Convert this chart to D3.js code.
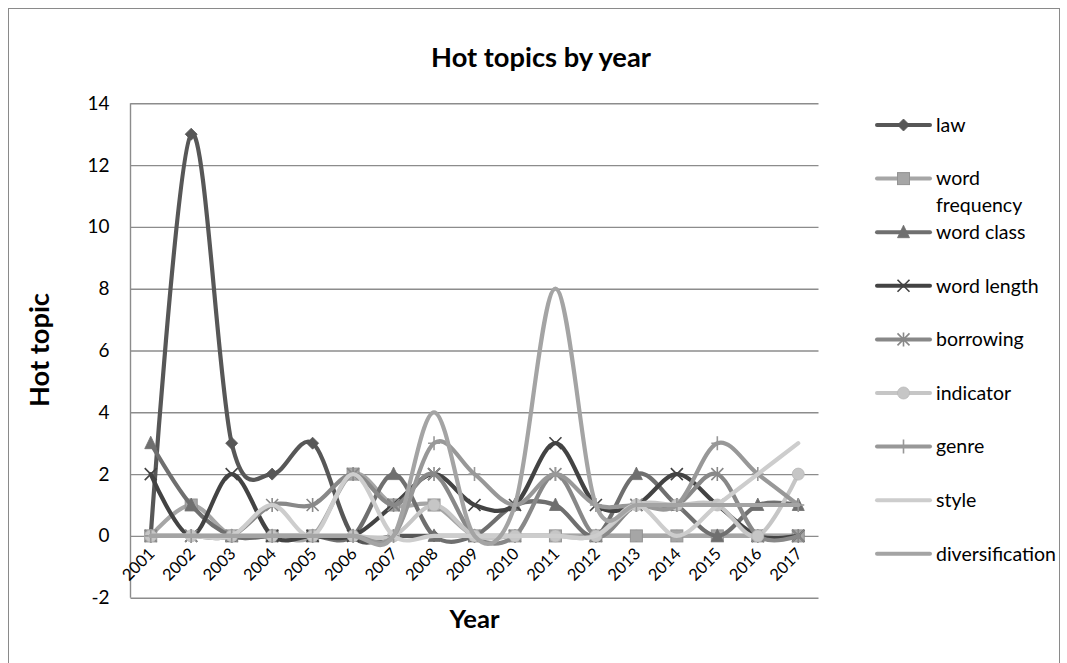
<!DOCTYPE html>
<html>
<head>
<meta charset="utf-8">
<script src="https://cdn.jsdelivr.net/npm/d3@7"></script>
<style>
  html, body { margin: 0; padding: 0; background: #ffffff; }
  svg { display: block; font-family: Lato, "Liberation Sans", Arial, sans-serif; }
</style>
</head>
<body>
<svg id="chart" width="1067" height="663"></svg>
<script>
// ---- data ----
const years = ["2001","2002","2003","2004","2005","2006","2007","2008","2009",
               "2010","2011","2012","2013","2014","2015","2016","2017"];
const law            = [0,13,3,2,3,0,0,0,0,0,0,0,0,0,0,0,0];
const wordFrequency  = [0,1,0,0,0,2,1,1,0,0,0,0,0,0,0,0,0];
const wordClass      = [3,1,0,0,0,0,2,0,0,1,1,0,2,1,0,1,1];
const wordLength     = [2,0,2,0,0,0,1,2,1,1,3,1,1,2,1,0,0];
const borrowing      = [0,0,0,1,1,2,1,2,0,0,2,0,1,1,2,0,0];
const indicator      = [0,0,0,0,0,0,0,1,0,0,0,0,1,1,1,0,2];
const genre          = [0,0,0,0,0,0,0,3,2,1,2,1,1,1,3,2,1];
const style          = [0,0,0,1,0,2,0,0,0,0,0,0,1,0,1,2,3];
const diversification= [0,0,0,0,0,0,0,4,0,1,8,1,1,1,1,1,1];
const yTicks = [-2,0,2,4,6,8,10,12,14];

const seriesNames = ["law","word frequency","word class","word length","borrowing",
                     "indicator","genre","style","diversification"];
const seriesValues = [law, wordFrequency, wordClass, wordLength, borrowing,
                      indicator, genre, style, diversification];
const seriesColors = ["#575757","#a6a6a6","#6f6f6f","#434343","#888888",
                      "#c6c6c6","#989898","#cdcdcd","#a4a4a4"];
const seriesMarkers = ["diamond","square","triangle","x","asterisk",
                       "circle","plus","none","none"];

const series = seriesNames.map((name, i) => ({
  name, color: seriesColors[i], marker: seriesMarkers[i],
  values: years.map((yr, j) => ({ year: yr, value: seriesValues[i][j] }))
}));

// ---- layout ----
const svg = d3.select("#chart");
const plot = { left: 130.5, right: 818.5, top: 103.3, bottom: 597.7 };

const x = d3.scaleBand().domain(years).range([plot.left, plot.right]);
const cx = d => x(d) + x.bandwidth() / 2;
const y = d3.scaleLinear().domain([-2, 14]).range([plot.bottom, plot.top]);

// font size that gives a string a particular rendered width
function fitFont(str, weight, target) {
  const t = svg.append("text").attr("font-size", 100).attr("font-weight", weight).text(str);
  const w = t.node().getComputedTextLength();
  t.remove();
  return 100 * target / w;
}
const fsTitle = fitFont("Hot topics by year", "bold", 220);
const fsXTitle = fitFont("Year", "bold", 50);
const fsYTitle = fitFont("Hot topic", "bold", 114);
const fsYTick = fitFont("14", "normal", 22);
const fsXTick = fitFont("2001", "normal", 38);
const fsLegend = fitFont("diversification", "normal", 120);

// chart frame
svg.append("rect")
  .attr("x", 8.5).attr("y", 8.5).attr("width", 1051).attr("height", 670)
  .attr("fill", "none").attr("stroke", "#8a8a8a").attr("stroke-width", 1);

// title
svg.append("text")
  .attr("x", 541).attr("y", 67)
  .attr("text-anchor", "middle").attr("font-weight", "bold")
  .attr("font-size", fsTitle).attr("fill", "#000")
  .text("Hot topics by year");

// value axis with gridlines
const yAxis = svg.append("g")
  .attr("transform", `translate(${plot.left},0)`)
  .call(d3.axisLeft(y).tickValues(yTicks).tickFormat(d => String(d))
        .tickSize(-(plot.right - plot.left)).tickPadding(21));
yAxis.select(".domain").remove();
yAxis.selectAll(".tick line").attr("stroke", "#8c8c8c").attr("stroke-width", 1.4);
yAxis.selectAll(".tick text")
  .attr("font-family", "Lato, 'Liberation Sans', Arial, sans-serif")
  .attr("font-size", fsYTick).attr("fill", "#000");

svg.append("line")
  .attr("x1", plot.left).attr("x2", plot.left)
  .attr("y1", plot.top).attr("y2", plot.bottom)
  .attr("stroke", "#8c8c8c").attr("stroke-width", 1.4);

// category labels, rotated
svg.append("g").selectAll("text").data(years).join("text")
  .attr("transform", d => `translate(${cx(d) + 5},${y(0) + 19}) rotate(-45)`)
  .attr("text-anchor", "end")
  .attr("font-size", fsXTick).attr("fill", "#000")
  .text(d => d);

// axis titles
svg.append("text")
  .attr("x", (plot.left + plot.right) / 2).attr("y", 628)
  .attr("text-anchor", "middle").attr("font-weight", "bold")
  .attr("font-size", fsXTitle).attr("fill", "#000")
  .text("Year");

svg.append("text")
  .attr("transform", "translate(49,350) rotate(-90)")
  .attr("text-anchor", "middle").attr("font-weight", "bold")
  .attr("font-size", fsYTitle).attr("fill", "#000")
  .text("Hot topic");

// markers
function drawMarker(g, type, color) {
  const s = 6;
  switch (type) {
    case "diamond":
      g.append("path").attr("d", `M0,${-s}L${s},0L0,${s}L${-s},0Z`)
        .attr("fill", color).attr("stroke", color).attr("stroke-width", 0.8);
      break;
    case "square":
      g.append("rect").attr("x", -s).attr("y", -s).attr("width", 2 * s).attr("height", 2 * s)
        .attr("fill", color).attr("stroke", d3.color(color).darker(0.35)).attr("stroke-width", 1);
      break;
    case "triangle":
      g.append("path").attr("d", `M0,${-s-1}L${s},${s-0.5}L${-s},${s-0.5}Z`)
        .attr("fill", color).attr("stroke", color).attr("stroke-width", 0.8);
      break;
    case "x":
      g.append("path").attr("d", `M${-s},${-s}L${s},${s}M${-s},${s}L${s},${-s}`)
        .attr("stroke", color).attr("stroke-width", 1.6).attr("fill", "none");
      break;
    case "asterisk":
      g.append("path").attr("d", `M${-s},${-s}L${s},${s}M${-s},${s}L${s},${-s}M0,${-s-1}L0,${s+1}`)
        .attr("stroke", color).attr("stroke-width", 1.6).attr("fill", "none");
      break;
    case "circle":
      g.append("circle").attr("r", s).attr("fill", color)
        .attr("stroke", d3.color(color).darker(0.2)).attr("stroke-width", 0.8);
      break;
    case "plus":
      g.append("path").attr("d", `M0,${-s-1}L0,${s+1}M${-s},0L${s},0`)
        .attr("stroke", color).attr("stroke-width", 1.6).attr("fill", "none");
      break;
  }
}

// smoothed lines
const line = d3.line()
  .x(d => cx(d.year))
  .y(d => y(d.value))
  .curve(d3.curveCardinal.tension(0));

const seriesG = svg.append("g");
series.forEach(s => {
  const g = seriesG.append("g");
  g.append("path")
    .attr("d", line(s.values))
    .attr("fill", "none").attr("stroke", s.color)
    .attr("stroke-width", 4.2).attr("stroke-linejoin", "round").attr("stroke-linecap", "round");
  if (s.marker !== "none") {
    s.values.forEach(v => {
      const mg = g.append("g").attr("transform", `translate(${cx(v.year)},${y(v.value)})`);
      drawMarker(mg, s.marker, s.color);
    });
  }
});

// legend
const legend = svg.append("g");
series.forEach((s, i) => {
  const ry = 125 + 53.6 * i;
  const g = legend.append("g").attr("transform", `translate(0,${ry})`);
  g.append("line").attr("x1", 877).attr("x2", 930).attr("y1", 0).attr("y2", 0)
    .attr("stroke", s.color).attr("stroke-width", 4).attr("stroke-linecap", "round");
  if (s.marker !== "none") {
    drawMarker(g.append("g").attr("transform", "translate(903.5,0)"), s.marker, s.color);
  }
  const words = s.name === "word frequency" ? ["word", "frequency"] : [s.name];
  words.forEach((w, k) => {
    g.append("text")
      .attr("x", 936).attr("y", k * 27).attr("dy", "0.35em")
      .attr("font-size", fsLegend).attr("fill", "#000")
      .text(w);
  });
});
</script>
</body>
</html>
